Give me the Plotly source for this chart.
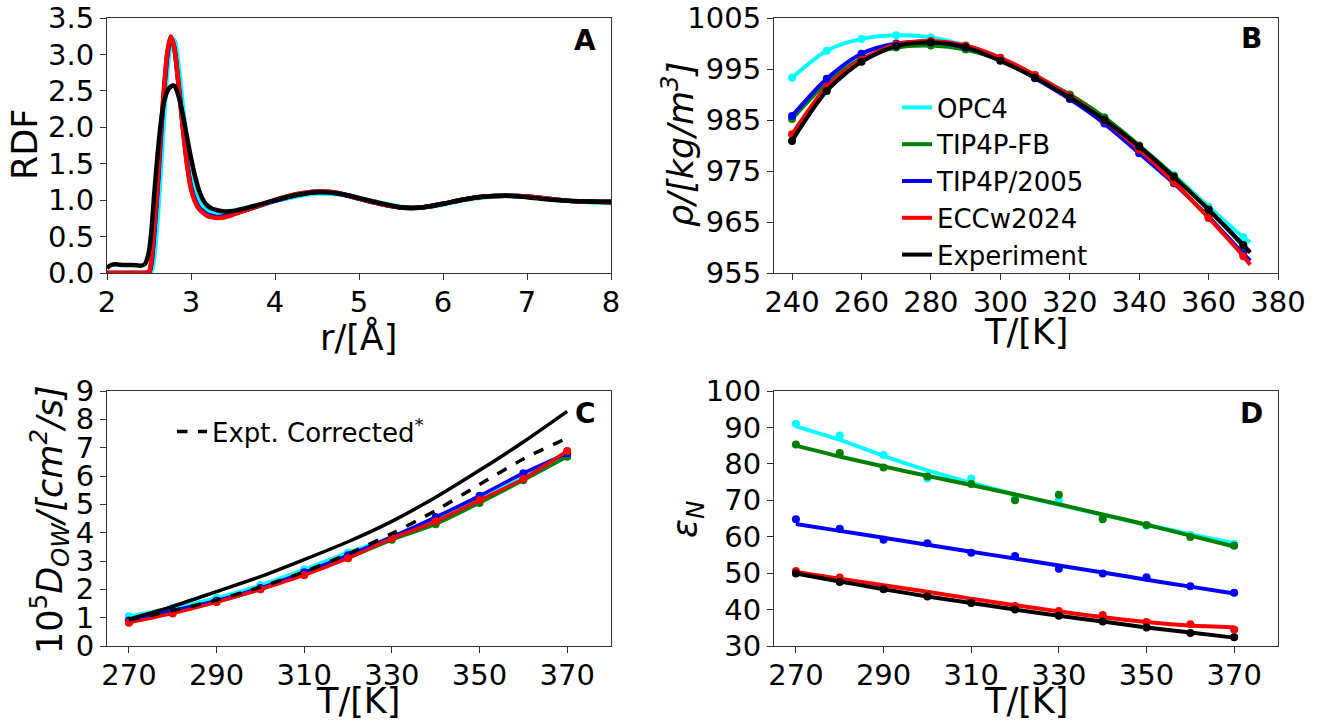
import plotly.graph_objects as go

W, H = 1317, 723
FONT = "DejaVu Sans"

# ---------------- Panel A: RDF ----------------
r_grid = [2.0, 2.05, 2.1, 2.2, 2.3, 2.4, 2.45, 2.5, 2.53, 2.56, 2.6, 2.64, 2.68, 2.72, 2.76, 2.8,
          2.84, 2.88, 2.92, 2.96, 3.0, 3.05, 3.1, 3.15, 3.2, 3.25, 3.3, 3.4, 3.5, 3.75, 4.0, 4.25, 4.5, 4.75,
          5.0, 5.25, 5.5, 5.75, 6.0, 6.25, 6.5, 6.75, 7.0, 7.25, 7.5, 7.75, 8.0]
rdf_opc4 = [0, 0, 0, 0, 0, 0, 0, 0, 0.03, 0.2, 0.7, 1.4, 2.15, 2.8, 3.15, 3.2,
            2.95, 2.55, 2.1, 1.7, 1.38, 1.1, 0.97, 0.9, 0.86, 0.84, 0.83, 0.83, 0.85, 0.92, 0.99, 1.05, 1.09, 1.08,
            1.03, 0.96, 0.91, 0.9, 0.94, 1.0, 1.04, 1.06, 1.05, 1.02, 0.99, 0.97, 0.96]
rdf_fb = [0, 0, 0, 0, 0, 0, 0, 0.01, 0.15, 0.55, 1.15, 1.9, 2.52, 3.02, 3.23, 3.1,
          2.72, 2.27, 1.82, 1.45, 1.17, 0.99, 0.88, 0.83, 0.79, 0.775, 0.76, 0.77, 0.81, 0.9, 1.0, 1.08, 1.12, 1.1,
          1.02, 0.95, 0.9, 0.9, 0.95, 1.01, 1.05, 1.06, 1.05, 1.02, 0.99, 0.98, 0.97]
rdf_2005 = [0, 0, 0, 0, 0, 0, 0, 0.01, 0.15, 0.5, 1.1, 1.85, 2.5, 3.0, 3.22, 3.1,
            2.72, 2.28, 1.83, 1.46, 1.18, 1.0, 0.89, 0.84, 0.8, 0.785, 0.77, 0.78, 0.81, 0.9, 0.99, 1.07, 1.11, 1.09,
            1.02, 0.95, 0.9, 0.9, 0.95, 1.01, 1.05, 1.06, 1.05, 1.02, 0.99, 0.98, 0.97]
rdf_ecc = [0, 0, 0, 0, 0, 0, 0, 0.02, 0.2, 0.6, 1.2, 1.95, 2.55, 3.05, 3.25, 3.1,
           2.7, 2.25, 1.8, 1.42, 1.15, 0.97, 0.87, 0.82, 0.78, 0.765, 0.755, 0.765, 0.8, 0.9, 1.0, 1.08, 1.12, 1.1,
           1.02, 0.95, 0.9, 0.9, 0.95, 1.01, 1.05, 1.06, 1.05, 1.02, 0.99, 0.98, 0.97]
rdf_exp = [0.07, 0.11, 0.12, 0.11, 0.11, 0.1, 0.12, 0.3, 0.6, 1.05, 1.6, 2.05, 2.35, 2.5, 2.56, 2.57,
           2.47, 2.3, 2.07, 1.82, 1.58, 1.32, 1.12, 0.99, 0.92, 0.885, 0.865, 0.845, 0.85, 0.92, 1.0, 1.07, 1.11, 1.09,
           1.03, 0.96, 0.9, 0.9, 0.95, 1.01, 1.05, 1.06, 1.04, 1.01, 0.99, 0.98, 0.98]

# ---------------- Panel B: density ----------------
T_B = [240, 250, 260, 270, 280, 290, 300, 310, 320, 330, 340, 350, 360, 370]
T_B_end = 372
rho_opc4 = [993.3, 998.6, 1000.9, 1001.6, 1001.2, 999.6, 997.2, 993.8, 989.8, 985.1, 979.9, 974.2, 968.0, 962.0]
rho_opc4_end = 961.0
rho_fb = [985.2, 992.3, 997.0, 999.2, 999.6, 998.8, 996.7, 993.5, 990.0, 985.5, 980.0, 974.0, 967.5, 960.3]
rho_fb_end = 959.2
rho_2005 = [985.8, 993.1, 998.0, 1000.0, 1000.3, 999.2, 996.8, 993.2, 989.1, 984.3, 978.5, 972.6, 966.0, 958.8]
rho_2005_end = 957.4
rho_ecc = [982.2, 991.5, 996.8, 999.8, 1000.5, 999.6, 997.2, 993.8, 989.7, 984.9, 979.2, 972.8, 965.8, 958.3]
rho_ecc_end = 956.6
rho_exp = [980.9, 990.7, 996.4, 999.5, 1000.2, 999.3, 996.6, 993.3, 989.4, 985.0, 979.8, 973.8, 967.4, 960.5]
rho_exp_end = 959.0

# ---------------- Panel C: diffusion ----------------
T_C = [270, 280, 290, 300, 310, 320, 330, 340, 350, 360, 370]
D_opc4 = [1.05, 1.35, 1.7, 2.15, 2.7, 3.3, 3.85, 4.5, 5.2, 6.0, 6.75]
D_fb = [0.85, 1.2, 1.55, 2.0, 2.55, 3.1, 3.75, 4.3, 5.05, 5.85, 6.68]
D_2005 = [0.9, 1.25, 1.6, 2.05, 2.6, 3.2, 3.85, 4.55, 5.3, 6.1, 6.8]
D_ecc = [0.82, 1.15, 1.55, 2.0, 2.5, 3.1, 3.8, 4.4, 5.15, 5.9, 6.88]
D_exp = [0.95, 1.4, 1.92, 2.45, 3.05, 3.68, 4.4, 5.25, 6.2, 7.2, 8.28]
D_exp_corr = [0.92, 1.25, 1.62, 2.08, 2.62, 3.25, 3.97, 4.78, 5.7, 6.6, 7.34]

# ---------------- Panel D: dielectric constant ----------------
T_D = [270, 280, 290, 300, 310, 320, 330, 340, 350, 360, 370]
eps_opc4_pts = [91.0, 87.8, 82.4, 76.0, 76.0, 71.0, 70.0, 65.5, 63.0, 60.5, 58.0]
eps_opc4_fit = [90.3, 86.6, 82.2, 78.2, 74.8, 71.6, 68.8, 66.0, 63.3, 60.7, 58.2]
eps_fb_pts = [85.3, 83.0, 79.0, 76.5, 74.5, 70.0, 71.5, 64.8, 63.2, 59.9, 57.5]
eps_fb_fit = [85.0, 82.0, 79.3, 76.7, 74.2, 71.6, 68.9, 66.1, 63.3, 60.3, 57.3]
eps_2005_pts = [64.8, 62.2, 59.2, 58.2, 55.6, 54.7, 51.2, 49.9, 48.9, 46.4, 44.6]
eps_2005_fit = [63.5, 61.6, 59.7, 57.8, 55.9, 54.0, 52.1, 50.2, 48.2, 46.3, 44.4]
eps_ecc_pts = [50.6, 48.8, 45.7, 44.0, 42.0, 41.0, 39.6, 38.5, 36.6, 36.0, 34.5]
eps_ecc_fit = [50.3, 48.5, 46.7, 44.9, 43.0, 41.2, 39.5, 37.9, 36.6, 35.6, 35.1]
eps_exp_pts = [49.9, 47.6, 45.6, 43.6, 41.8, 40.0, 38.3, 36.7, 35.1, 33.6, 32.4]
eps_exp_fit = [49.9, 47.7, 45.6, 43.6, 41.8, 40.0, 38.3, 36.7, 35.1, 33.7, 32.3]

names = ["OPC4", "TIP4P-FB", "TIP4P/2005", "ECCw2024", "Experiment"]
colors = ["#00FFFF", "#008000", "#0000FF", "#FF0000", "#000000"]

fig = go.Figure()

# Panel A
for name, col, ys in zip(names, colors, [rdf_opc4, rdf_fb, rdf_2005, rdf_ecc, rdf_exp]):
    fig.add_trace(go.Scatter(x=r_grid, y=ys, mode="lines", xaxis="x", yaxis="y",
                             line=dict(color=col, width=4.5, shape="spline", smoothing=0.8),
                             showlegend=False, hoverinfo="skip"))

# Panel B
for name, col, ys, yend in zip(names, colors,
                               [rho_opc4, rho_fb, rho_2005, rho_ecc, rho_exp],
                               [rho_opc4_end, rho_fb_end, rho_2005_end, rho_ecc_end, rho_exp_end]):
    fig.add_trace(go.Scatter(x=T_B + [T_B_end], y=ys + [yend], mode="lines", xaxis="x2", yaxis="y2",
                             line=dict(color=col, width=4, shape="spline", smoothing=0.8),
                             name=name, showlegend=True, legend="legend"))
    fig.add_trace(go.Scatter(x=T_B, y=ys, mode="markers", xaxis="x2", yaxis="y2",
                             marker=dict(color=col, size=8), showlegend=False))

# Panel C
for name, col, ys in zip(names[:4], colors[:4], [D_opc4, D_fb, D_2005, D_ecc]):
    fig.add_trace(go.Scatter(x=T_C, y=ys, mode="lines+markers", xaxis="x3", yaxis="y3",
                             line=dict(color=col, width=3.5, shape="spline", smoothing=0.8),
                             marker=dict(color=col, size=8), showlegend=False))
fig.add_trace(go.Scatter(x=T_C, y=D_exp, mode="lines", xaxis="x3", yaxis="y3",
                         line=dict(color="black", width=3.5, shape="spline", smoothing=0.8),
                         showlegend=False))
fig.add_trace(go.Scatter(x=T_C, y=D_exp_corr, mode="lines", xaxis="x3", yaxis="y3",
                         line=dict(color="black", width=3.5, dash="dash", shape="spline", smoothing=0.8),
                         name="Expt. Corrected<sup>*</sup>", showlegend=True, legend="legend2"))

# Panel D
for name, col, pts, fit in zip(names, colors,
                               [eps_opc4_pts, eps_fb_pts, eps_2005_pts, eps_ecc_pts, eps_exp_pts],
                               [eps_opc4_fit, eps_fb_fit, eps_2005_fit, eps_ecc_fit, eps_exp_fit]):
    fig.add_trace(go.Scatter(x=T_D, y=fit, mode="lines", xaxis="x4", yaxis="y4",
                             line=dict(color=col, width=4, shape="spline", smoothing=0.8),
                             showlegend=False))
    fig.add_trace(go.Scatter(x=T_D, y=pts, mode="markers", xaxis="x4", yaxis="y4",
                             marker=dict(color=col, size=8), showlegend=False))


def px_x(p):
    return p / W


def px_y(p):
    return 1 - p / H


xA = [px_x(107), px_x(611)]
xB = [px_x(774), px_x(1278)]
yTop = [px_y(273), px_y(18)]
yBot = [px_y(646), px_y(391)]

axis_common = dict(showgrid=False, zeroline=False, showline=True, linecolor="#333", linewidth=1.2,
                   mirror=True, ticks="outside", ticklen=6, tickwidth=1.2, tickcolor="#333",
                   automargin=False,
                   tickfont=dict(family=FONT, size=29, color="black"))
xaxis_extra = dict(ticklabelstandoff=-3)

fig.update_layout(
    width=W, height=H, plot_bgcolor="white", paper_bgcolor="white",
    margin=dict(l=0, r=0, t=0, b=0, autoexpand=False),
    font=dict(family=FONT, color="black"),
    xaxis=dict(domain=xA, anchor="y", range=[2, 8], tickvals=[2, 3, 4, 5, 6, 7, 8],
               **axis_common, **xaxis_extra),
    yaxis=dict(domain=yTop, anchor="x", range=[0, 3.5], tickvals=[0, 0.5, 1, 1.5, 2, 2.5, 3, 3.5],
               tickformat=".1f", **axis_common),
    xaxis2=dict(domain=xB, anchor="y2", range=[234.8, 380], tickvals=list(range(240, 381, 20)),
                **axis_common, **xaxis_extra),
    yaxis2=dict(domain=yTop, anchor="x2", range=[955, 1005], tickvals=[955, 965, 975, 985, 995, 1005],
                **axis_common),
    xaxis3=dict(domain=xA, anchor="y3", range=[265, 380], tickvals=[270, 290, 310, 330, 350, 370],
                **axis_common, **xaxis_extra),
    yaxis3=dict(domain=yBot, anchor="x3", range=[0, 9], tickvals=list(range(0, 10)), **axis_common),
    xaxis4=dict(domain=xB, anchor="y4", range=[265, 380], tickvals=[270, 290, 310, 330, 350, 370],
                **axis_common, **xaxis_extra),
    yaxis4=dict(domain=yBot, anchor="x4", range=[30, 100], tickvals=list(range(30, 101, 10)), **axis_common),
    legend=dict(x=px_x(897), y=px_y(84), xanchor="left", yanchor="top", bgcolor="rgba(0,0,0,0)",
                font=dict(family=FONT, size=26, color="black"), tracegroupgap=0),
    legend2=dict(x=px_x(172), y=px_y(408), xanchor="left", yanchor="top", bgcolor="rgba(0,0,0,0)",
                 font=dict(family=FONT, size=26, color="black")),
)

ann = []


def add_text(text, x, y, size, angle=0, bold=False):
    ann.append(dict(text=("<b>%s</b>" % text) if bold else text, x=px_x(x), y=px_y(y),
                    xref="paper", yref="paper", showarrow=False, textangle=angle,
                    xanchor="center", yanchor="middle",
                    font=dict(family=FONT, size=size, color="black")))


add_text("A", 585, 40, 28, bold=True)
add_text("B", 1251, 38, 28, bold=True)
add_text("C", 585, 413, 28, bold=True)
add_text("D", 1251, 413, 28, bold=True)
add_text("r/[Å]", 358, 337, 35)
add_text("RDF", 25, 145, 35, angle=-90)
add_text("T/[K]", 1026, 332, 35)
add_text("<i>ρ/[kg/m<sup>3</sup>]</i>", 678, 145, 35, angle=-90)
add_text("T/[K]", 358, 701, 35)
add_text("10<sup>5</sup><i>D<sub>OW</sub>/[cm<sup>2</sup>/s]</i>", 49, 520, 35, angle=-90)
add_text("T/[K]", 1026, 701, 35)
add_text("<i>ε<sub>N</sub></i>", 687, 520, 35, angle=-90)
fig.update_layout(annotations=ann)

fig.write_html("out.html", config={"displayModeBar": False},
               post_script="document.body.style.margin='0';document.body.style.padding='0';"
                           "document.body.style.overflow='hidden';")
